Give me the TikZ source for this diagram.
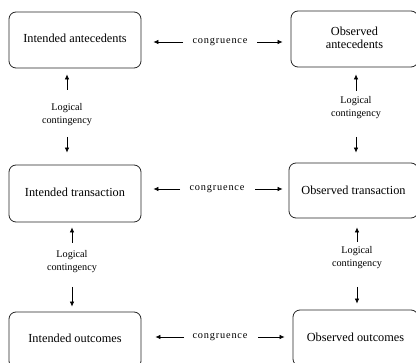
\documentclass[tikz,border=0pt]{standalone}
\usepackage{fontspec}
\setmainfont{Liberation Serif}
\newfontfamily\congfont[LetterSpace=8]{Liberation Serif}
\usetikzlibrary{arrows.meta}
\begin{document}
\begin{tikzpicture}[x=1pt,y=-1pt,
  box/.style={draw=black!85,line width=0.8pt,rounded corners=7pt,inner sep=0pt,
    font=\fontsize{12.3}{14}\selectfont,align=center},
  cong/.style={inner sep=0pt,font=\congfont\fontsize{10.3}{12}\selectfont},
  lc/.style={inner sep=0pt,align=center,font=\fontsize{10.2}{13}\selectfont},
  arr/.style={line width=0.75pt,-{Latex[length=5pt,width=4.5pt]}}]
\fill[white] (0,0) rectangle (416,363);
\clip (0,0) rectangle (416,363);
\useasboundingbox (0,0) rectangle (416,363);
% boxes
\node[box,minimum width=132pt,minimum height=56pt] (ia) at (75,40) {\raisebox{3pt}{Intended antecedents}};
\node[box,minimum width=127pt,minimum height=56pt] (oa) at (354.5,39) {\raisebox{6pt}{\begin{tabular}{@{}c@{}}Observed\\[-1pt]antecedents\end{tabular}}};
\node[box,minimum width=132pt,minimum height=57pt] (it) at (75,193.5) {\raisebox{3.5pt}{Intended transaction}};
\node[box,minimum width=129pt,minimum height=55pt] (ot) at (353.5,190.5) {\raisebox{1.5pt}{Observed transaction}};
\node[box,minimum width=132pt,minimum height=56pt] (io) at (75,340) {\raisebox{4pt}{Intended outcomes}};
\node[box,minimum width=125pt,minimum height=56pt] (oo) at (355.5,338) {\raisebox{2.5pt}{Observed outcomes}};
% congruence labels
\node[cong] (c1) at (220,42) {congruence};
\node[cong] (c2) at (217,189) {congruence};
\node[cong] (c3) at (220,337) {congruence};
% logical contingency labels
\node[lc] (l1) at (67,114.5) {Logical\\contingency};
\node[lc] (l2) at (356,108) {Logical\\contingency};
\node[lc] (l3) at (72,261.5) {Logical\\contingency};
\node[lc] (l4) at (357,258) {Logical\\contingency};
% congruence arrows
\draw[arr,shorten <=37pt,shorten >=12pt] (c1.center) -- (c1.center -| ia.east);
\draw[arr,shorten <=37pt,shorten >=8pt] (c1.center) -- (c1.center -| oa.west);
\draw[arr,shorten <=37pt,shorten >=12pt] (c2.center) -- (c2.center -| it.east);
\draw[arr,shorten <=38pt,shorten >=6pt] (c2.center) -- (c2.center -| ot.west);
\draw[arr,shorten <=36pt,shorten >=14pt] (c3.center) -- (c3.center -| io.east);
\draw[arr,shorten <=38pt,shorten >=8pt] (c3.center) -- (c3.center -| oo.west);
% logical contingency arrows
\draw[arr,shorten <=24.5pt,shorten >=6pt] (l1.center) -- (l1.center |- ia.south);
\draw[arr,shorten <=22.5pt,shorten >=12pt] (l1.center) -- (l1.center |- it.north);
\draw[arr,shorten <=17pt,shorten >=7pt] (l2.center) -- (l2.center |- oa.south);
\draw[arr,shorten <=29pt,shorten >=10pt] (l2.center) -- (l2.center |- ot.north);
\draw[arr,shorten <=18.5pt,shorten >=5pt] (l3.center) -- (l3.center |- it.south);
\draw[arr,shorten <=25.5pt,shorten >=5pt] (l3.center) -- (l3.center |- io.north);
\draw[arr,shorten <=16pt,shorten >=9pt] (l4.center) -- (l4.center |- ot.south);
\draw[arr,shorten <=29pt,shorten >=6pt] (l4.center) -- (l4.center |- oo.north);
\end{tikzpicture}
\end{document}
